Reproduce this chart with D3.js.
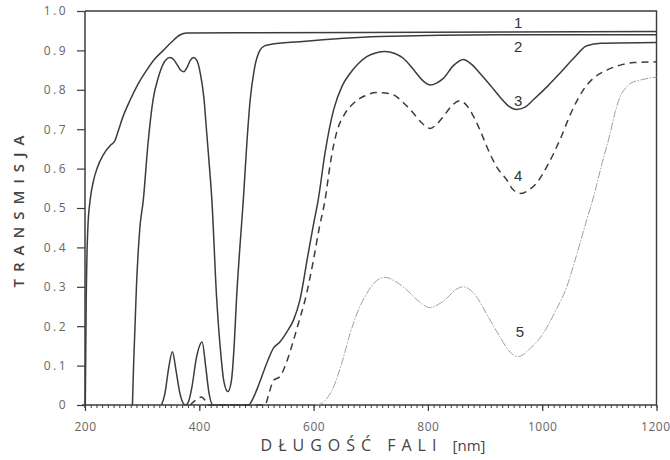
<!DOCTYPE html>
<html>
<head>
<meta charset="utf-8">
<script src="https://cdn.jsdelivr.net/npm/d3@7"></script>
<style>
  html, body { margin: 0; padding: 0; background: #fff; }
  svg { display: block; }
</style>
</head>
<body>
<svg id="chart" width="670" height="460"></svg>
<script>
// ---- data (wavelength nm, transmission) ----
const curve1 = [[200.5,0],[202,0.25],[205,0.45],[209,0.52],[215,0.57],[221,0.6],[232,0.635],[245,0.66],[252,0.67],[258,0.695],[266,0.73],[279,0.774],[293,0.815],[308,0.85],[322,0.878],[337,0.9],[352,0.922],[366,0.939],[378,0.944],[500,0.945],[800,0.946],[1200,0.948]];
const curve2 = [[283,0],[285,0.1],[290,0.3],[296,0.45],[302,0.52],[310,0.66],[319,0.774],[328,0.83],[337,0.866],[343,0.878],[349,0.882],[355,0.877],[362,0.862],[368,0.849],[373,0.846],[378,0.855],[384,0.874],[390,0.882],[396,0.874],[402,0.84],[408,0.78],[413,0.69],[418,0.6],[422,0.52],[430,0.28],[437,0.14],[443,0.06],[450,0.034],[456,0.06],[461,0.15],[465,0.266],[471,0.4],[477,0.52],[483,0.66],[489,0.774],[496,0.85],[506,0.9],[515,0.912],[524,0.915],[576,0.922],[716,0.935],[926,0.94],[1200,0.94]];
const curve3 = [[334,0],[340,0.03],[346,0.09],[353,0.135],[359,0.09],[366,0.03],[372,0.004],[376,0],[381,0.008],[387,0.045],[395,0.12],[405,0.16],[411,0.1],[417,0.03],[424,0],[486,0],[495,0.02],[505,0.055],[518,0.106],[530,0.145],[541,0.16],[553,0.185],[565,0.216],[576,0.266],[590,0.38],[600,0.46],[608,0.52],[620,0.64],[635,0.749],[650,0.81],[664,0.842],[678,0.866],[693,0.884],[710,0.894],[725,0.897],[742,0.892],[757,0.88],[770,0.86],[780,0.842],[792,0.822],[804,0.812],[815,0.817],[827,0.829],[845,0.862],[862,0.877],[876,0.865],[891,0.842],[910,0.81],[926,0.782],[942,0.758],[955,0.75],[970,0.756],[984,0.774],[1010,0.81],[1031,0.842],[1055,0.88],[1078,0.912],[1103,0.918],[1200,0.92]];
const curve4 = [[384,0],[393,0.012],[404,0.02],[410,0.012],[415,0],[515,0],[522,0.03],[530,0.063],[541,0.072],[553,0.11],[565,0.165],[575,0.215],[585,0.266],[600,0.37],[610,0.45],[620,0.52],[630,0.62],[640,0.69],[655,0.74],[670,0.766],[690,0.785],[710,0.793],[725,0.792],[740,0.787],[758,0.766],[775,0.74],[790,0.715],[804,0.702],[815,0.712],[827,0.732],[842,0.76],[856,0.772],[868,0.76],[880,0.732],[892,0.695],[903,0.656],[920,0.605],[938,0.571],[950,0.545],[963,0.537],[976,0.545],[990,0.563],[1010,0.61],[1031,0.673],[1050,0.74],[1072,0.8],[1090,0.83],[1113,0.85],[1135,0.862],[1160,0.869],[1200,0.871]];
const curve5 = [[604,0],[615,0.005],[625,0.02],[635,0.046],[650,0.11],[664,0.182],[678,0.24],[693,0.283],[710,0.315],[725,0.324],[745,0.312],[763,0.292],[785,0.262],[804,0.247],[818,0.255],[833,0.271],[848,0.292],[862,0.3],[874,0.292],[885,0.275],[905,0.225],[926,0.173],[942,0.137],[958,0.123],[980,0.145],[1002,0.182],[1022,0.235],[1043,0.3],[1060,0.38],[1078,0.47],[1090,0.529],[1105,0.615],[1119,0.69],[1128,0.745],[1136,0.782],[1145,0.803],[1154,0.816],[1175,0.826],[1200,0.832]];

const curveNames = ["1","2","3","4","5"];
const labelPos = [[958,0.97],[958,0.911],[958,0.774],[958,0.582],[961,0.186]];
const xTicks = [200,400,600,800,1000,1200];
const yTicks = [0,0.1,0.2,0.3,0.4,0.5,0.6,0.7,0.8,0.9,1.0];
const xTitle = "DŁUGOŚĆ FALI";
const xUnit = "[nm]";
const yTitle = "TRANSMISJA";

// ---- scales ----
const svg = d3.select("#chart");
const x = d3.scaleLinear().domain([200,1200]).range([85,656.5]);
const y = d3.scaleLinear().domain([0,1]).range([405,11]);
const ink = "#3c3c3c";

// frame (top & right)
svg.append("path")
  .attr("d", `M${x(200)},${y(1)}H${x(1200)}V${y(0)}`)
  .attr("fill","none").attr("stroke",ink).attr("stroke-width",1.4);

// x axis minor ticks every 10 nm
const gx = svg.append("g").attr("transform",`translate(0,${y(0)})`);
gx.call(d3.axisBottom(x).tickValues(d3.range(200,1201,10)).tickSize(3).tickFormat(""));
gx.select(".domain").remove();
gx.selectAll("line").attr("stroke",ink).attr("stroke-width",1);
const gx2 = svg.append("g").attr("transform",`translate(0,${y(0)})`);
gx2.call(d3.axisBottom(x).tickValues(xTicks).tickSize(6).tickPadding(11).tickFormat(d3.format("d")));
gx2.select(".domain").attr("d",`M${x(200)-3},0H${x(1200)}`).attr("stroke",ink).attr("stroke-width",1.5);
gx2.selectAll("line").attr("stroke",ink).attr("stroke-width",1.2);
gx2.selectAll("text").attr("font-family","'Open Sans', sans-serif").attr("font-size",12)
  .attr("fill","#666").attr("letter-spacing","0.5px");
gx2.selectAll(".tick").filter(d => d === 1200).select("text")
  .attr("text-anchor","end").attr("x", 670 - x(1200));

// y axis
const gy = svg.append("g").attr("transform",`translate(${x(200)},0)`);
gy.call(d3.axisLeft(y).tickValues(yTicks).tickSize(8).tickPadding(9)
  .tickFormat(d => d === 0 ? "0" : d3.format(".1f")(d)));
gy.select(".domain").attr("d",`M0,${y(1)}V${y(0)+3}`).attr("stroke",ink).attr("stroke-width",1.5);
gy.selectAll("line").attr("stroke",ink).attr("stroke-width",1.2);
gy.selectAll("text").attr("font-family","'Open Sans', sans-serif").attr("font-size",12)
  .attr("fill","#666").attr("letter-spacing","2.5px");

// lines
const line = d3.line().x(d => x(d[0])).y(d => y(d[1])).curve(d3.curveMonotoneX);
const styles = [
  {data: curve1, color: ink, w: 1.5, dash: null},
  {data: curve2, color: ink, w: 1.5, dash: null},
  {data: curve3, color: ink, w: 1.5, dash: null},
  {data: curve4, color: ink, w: 1.5, dash: "7,5"},
  {data: curve5, color: "#a0a0a0", w: 1, dash: "8,1.5,1.5,1.5"}
];
styles.forEach(s => {
  svg.append("path").datum(s.data).attr("d", line)
    .attr("fill","none").attr("stroke",s.color).attr("stroke-width",s.w)
    .attr("stroke-dasharray", s.dash);
});

// curve labels
svg.append("g").selectAll("text").data(curveNames).join("text")
  .attr("x",(d,i)=>x(labelPos[i][0]))
  .attr("y",(d,i)=>y(labelPos[i][1]))
  .attr("text-anchor","middle").attr("dominant-baseline","central")
  .attr("font-family","'Liberation Sans', Arial, sans-serif").attr("font-size",15)
  .attr("fill","#333").text(d=>d);

// axis titles
const xt = svg.append("text").attr("x",373).attr("y",451).attr("text-anchor","middle")
  .attr("font-family","'Open Sans', sans-serif").attr("font-size",16).attr("fill","#444");
xt.append("tspan").attr("letter-spacing","6px").text(xTitle + " ");
xt.append("tspan").attr("font-size",15).attr("letter-spacing","0px").text(xUnit);

svg.append("text").attr("transform","translate(18,208) rotate(-90)")
  .attr("text-anchor","middle").attr("dominant-baseline","central")
  .attr("font-family","'Open Sans', sans-serif").attr("font-size",15).attr("font-weight",600)
  .attr("letter-spacing","7px").attr("fill","#444").text(yTitle);
</script>
</body>
</html>
